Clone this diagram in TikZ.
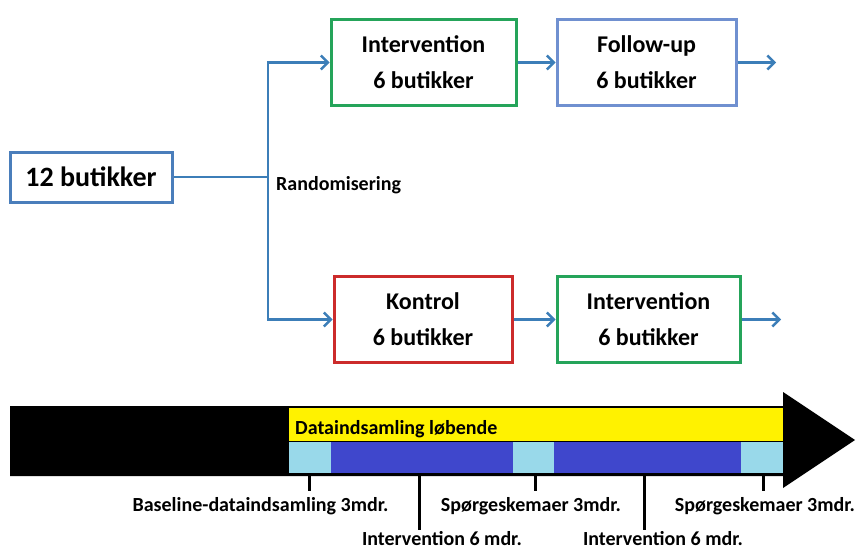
\documentclass[tikz,border=0pt]{standalone}
\usepackage{fontspec}
\setmainfont{Carlito}
\usetikzlibrary{arrows.meta}
\definecolor{connc}{HTML}{3C7EB8}
\definecolor{startc}{HTML}{4A7EBB}
\definecolor{greenc}{HTML}{25A45A}
\definecolor{fuc}{HTML}{7090D0}
\definecolor{redc}{HTML}{CC2B2B}
\definecolor{yel}{HTML}{FFF200}
\definecolor{lblue}{HTML}{99D9EA}
\definecolor{dblue}{HTML}{3F47CC}
\begin{document}
\begin{tikzpicture}[x=1pt,y=-1pt,
  box/.style={draw, line width=3pt, fill=white, minimum height=86pt, align=center, inner sep=0pt,
    font=\fontsize{24}{36}\selectfont\bfseries},
  link/.style={draw=connc, line width=2.4pt},
  arr/.style={link, -{Straight Barb[length=7pt,width=14pt,line width=2.4pt]}},
  lbl/.style={font=\fontsize{20}{24}\selectfont\bfseries, inner sep=0pt},
  tick/.style={line width=3pt, black}]
\useasboundingbox (0,0) rectangle (858,551);
% flow chart
\node[box, draw=startc, minimum width=162pt, minimum height=50pt, font=\fontsize{28}{34}\selectfont\bfseries] (start) at (91,177) {12 butikker};
\node[box, draw=greenc, minimum width=185pt] (int1) at (423.5,62.5) {Intervention\\6 butikker};
\node[box, draw=fuc, minimum width=179pt] (fu) at (646.5,62.5) {Follow-up\\6 butikker};
\node[box, draw=redc, minimum width=178pt] (kon) at (423,319.5) {Kontrol\\6 butikker};
\node[box, draw=greenc, minimum width=183pt] (int2) at (648.5,319.5) {Intervention\\6 butikker};
\node[lbl, anchor=base west] (rand) at (276,190) {Randomisering};
\coordinate (split) at (268,177);
\coordinate (e1) at (776,62.5);
\coordinate (e2) at (781,319.5);
\draw[link] (start.east) -- (split);
\draw[arr] (split) |- (int1.west);
\draw[arr] (split) |- (kon.west);
\draw[arr] (int1.east) -- (fu.west);
\draw[arr] (fu.east) -- (e1);
\draw[arr] (kon.east) -- (int2.west);
\draw[arr] (int2.east) -- (e2);
% timeline
\fill[black] (10,406) -- (783,406) -- (783,392) -- (855,440) -- (783,488) -- (783,476) -- (10,476) -- cycle;
\fill[yel] (289,408) rectangle (783,441);
\fill[lblue] (289,442) rectangle (331,473);
\fill[dblue] (331,442) rectangle (513,473);
\fill[lblue] (513,442) rectangle (554,473);
\fill[dblue] (554,442) rectangle (741,473);
\fill[lblue] (741,442) rectangle (783,473);
\node[lbl, anchor=base west] (data) at (295,434) {Dataindsamling løbende};
% ticks
\draw[tick] (309,476) -- (309,491);
\draw[tick] (419,476) -- (419,530);
\draw[tick] (535,476) -- (535,491);
\draw[tick] (644,476) -- (644,530);
\draw[tick] (763,476) -- (763,491);
\node[lbl, anchor=base] (b1) at (260.5,511) {Baseline-dataindsamling 3mdr.};
\node[lbl, anchor=base] (s1) at (531,511) {Spørgeskemaer 3mdr.};
\node[lbl, anchor=base] (s2) at (765,511) {Spørgeskemaer 3mdr.};
\node[lbl, anchor=base, text depth=0pt] (i1) at (442,545) {Intervention 6 mdr.};
\node[lbl, anchor=base, text depth=0pt] (i2) at (663,545) {Intervention 6 mdr.};
\end{tikzpicture}
\end{document}
